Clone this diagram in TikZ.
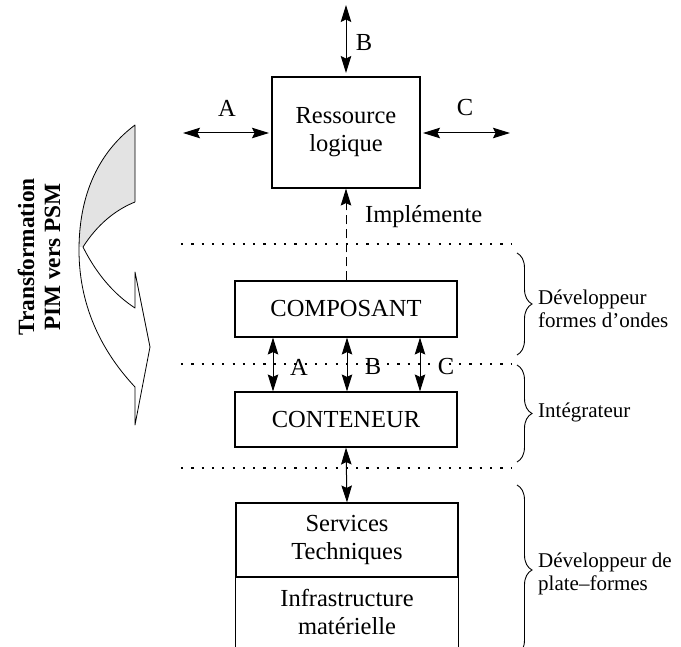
\documentclass[tikz,border=0pt]{standalone}
\usepackage{fontspec}
\setmainfont{Liberation Serif}
\usetikzlibrary{arrows.meta,decorations.pathreplacing}
\newcommand\bigsz{\fontsize{24.5}{28}\selectfont}
\newcommand\sidesz{\fontsize{21}{23.5}\selectfont}
\newcommand\boldsz{\fontsize{23.3}{26}\selectfont\bfseries}
\begin{document}
\begin{tikzpicture}[x=1pt,y=-1pt,
  >={Stealth[length=17pt,width=10.5pt,inset=2.5pt]},
  box/.style={draw,line width=1.1pt,inner sep=0pt,align=center,font=\bigsz},
  lbl/.style={inner sep=0pt,font=\bigsz},
  sidetxt/.style={inner sep=0pt,align=left,anchor=west,font=\sidesz},
  dbl/.style={<->,line width=1pt},
  dotline/.style={line width=2.2pt,line cap=butt,dash pattern=on 2.2pt off 8.1pt},
  brc/.style={line width=0.9pt,decorate,decoration={brace,amplitude=15pt}},
  ribbon/.style={line width=0.8pt,line join=round}]
\useasboundingbox (0,0) rectangle (681,647);
\clip (0,0) rectangle (681,647);

% dotted separators
\draw[dotline] (181,244) -- (512,244);
\draw[dotline] (181,364) -- (512,364);
\draw[dotline] (181,468) -- (512,468);

% boxes
\node[box,minimum width=148pt,minimum height=111pt] (res) at (346,132.5) {Ressource\\logique};
\node[box,minimum width=222pt,minimum height=56pt] (comp) at (346,309) {COMPOSANT};
\node[box,minimum width=222pt,minimum height=55pt] (cont) at (346,419.5) {CONTENEUR};
\node[box,minimum width=222pt,minimum height=74pt] (serv) at (347,540) {Services\\Techniques};
\node[lbl,align=center] (infra) at (347,612) {Infrastructure\\matérielle};
\draw[line width=1.1pt] (serv.south west) -- ++(0,80);
\draw[line width=1.1pt] (serv.south east) -- ++(0,80);

% arrows around the logical resource
\coordinate (bt) at (346,5);
\coordinate (bb) at (346,73);
\coordinate (al) at (183,133);
\coordinate (ar) at (269,133);
\coordinate (cl) at (423,133);
\coordinate (cr) at (510,133);
\draw[dbl] (bt) -- (bb);
\draw[dbl] (al) -- (ar);
\draw[dbl] (cl) -- (cr);
\node[lbl] (lb) at (364,43) {B};
\node[lbl] (la) at (227,108) {A};
\node[lbl] (lc) at (465,108) {C};

% implements
\draw[->,line width=1pt,dash pattern=on 9pt off 5pt] (comp.north) -- (res.south);
\node[lbl,anchor=west] (impl) at (365,217) {Implémente};

% component/container arrows
\draw[dbl] (comp.south -| 273,0) -- (cont.north -| 273,0);
\draw[dbl] (comp.south -| 347,0) -- (cont.north -| 347,0);
\draw[dbl] (comp.south -| 420,0) -- (cont.north -| 420,0);
\node[lbl] (ma) at (299,367) {A};
\node[lbl] (mb) at (373,367) {B};
\node[lbl] (mc) at (446,367) {C};
\draw[dbl] (cont.south) -- (serv.north);

% braces
\draw[brc] (517,253) -- (517,355);
\draw[brc] (517,365) -- (517,462);
\draw[brc] (517,485) -- (517,655);
\node[sidetxt] (s1) at (538,309) {Développeur\\formes d’ondes};
\node[sidetxt] (s2) at (538,412) {Intégrateur};
\node[sidetxt] (s3) at (538,574) {Développeur de\\plate–formes};

% transformation ribbon arrow
\fill[gray!22] (135,125) .. controls (95,155) and (79,200) .. (79,247)
  -- (83,247) .. controls (97,225) and (115,210) .. (135,202) -- cycle;
\draw[ribbon] (135,202) -- (135,125) .. controls (95,155) and (79,200) .. (79,250)
  .. controls (79,310) and (105,355) .. (135,387) -- (135,425) -- (150,347)
  -- (135,272) -- (135,308) .. controls (115,295) and (97,275) .. (83,247)
  .. controls (97,225) and (115,210) .. (135,202);
\node[inner sep=0pt,rotate=90,align=center,font=\boldsz] (tr) at (39,257) {Transformation\\PIM vers PSM};
\end{tikzpicture}
\end{document}
